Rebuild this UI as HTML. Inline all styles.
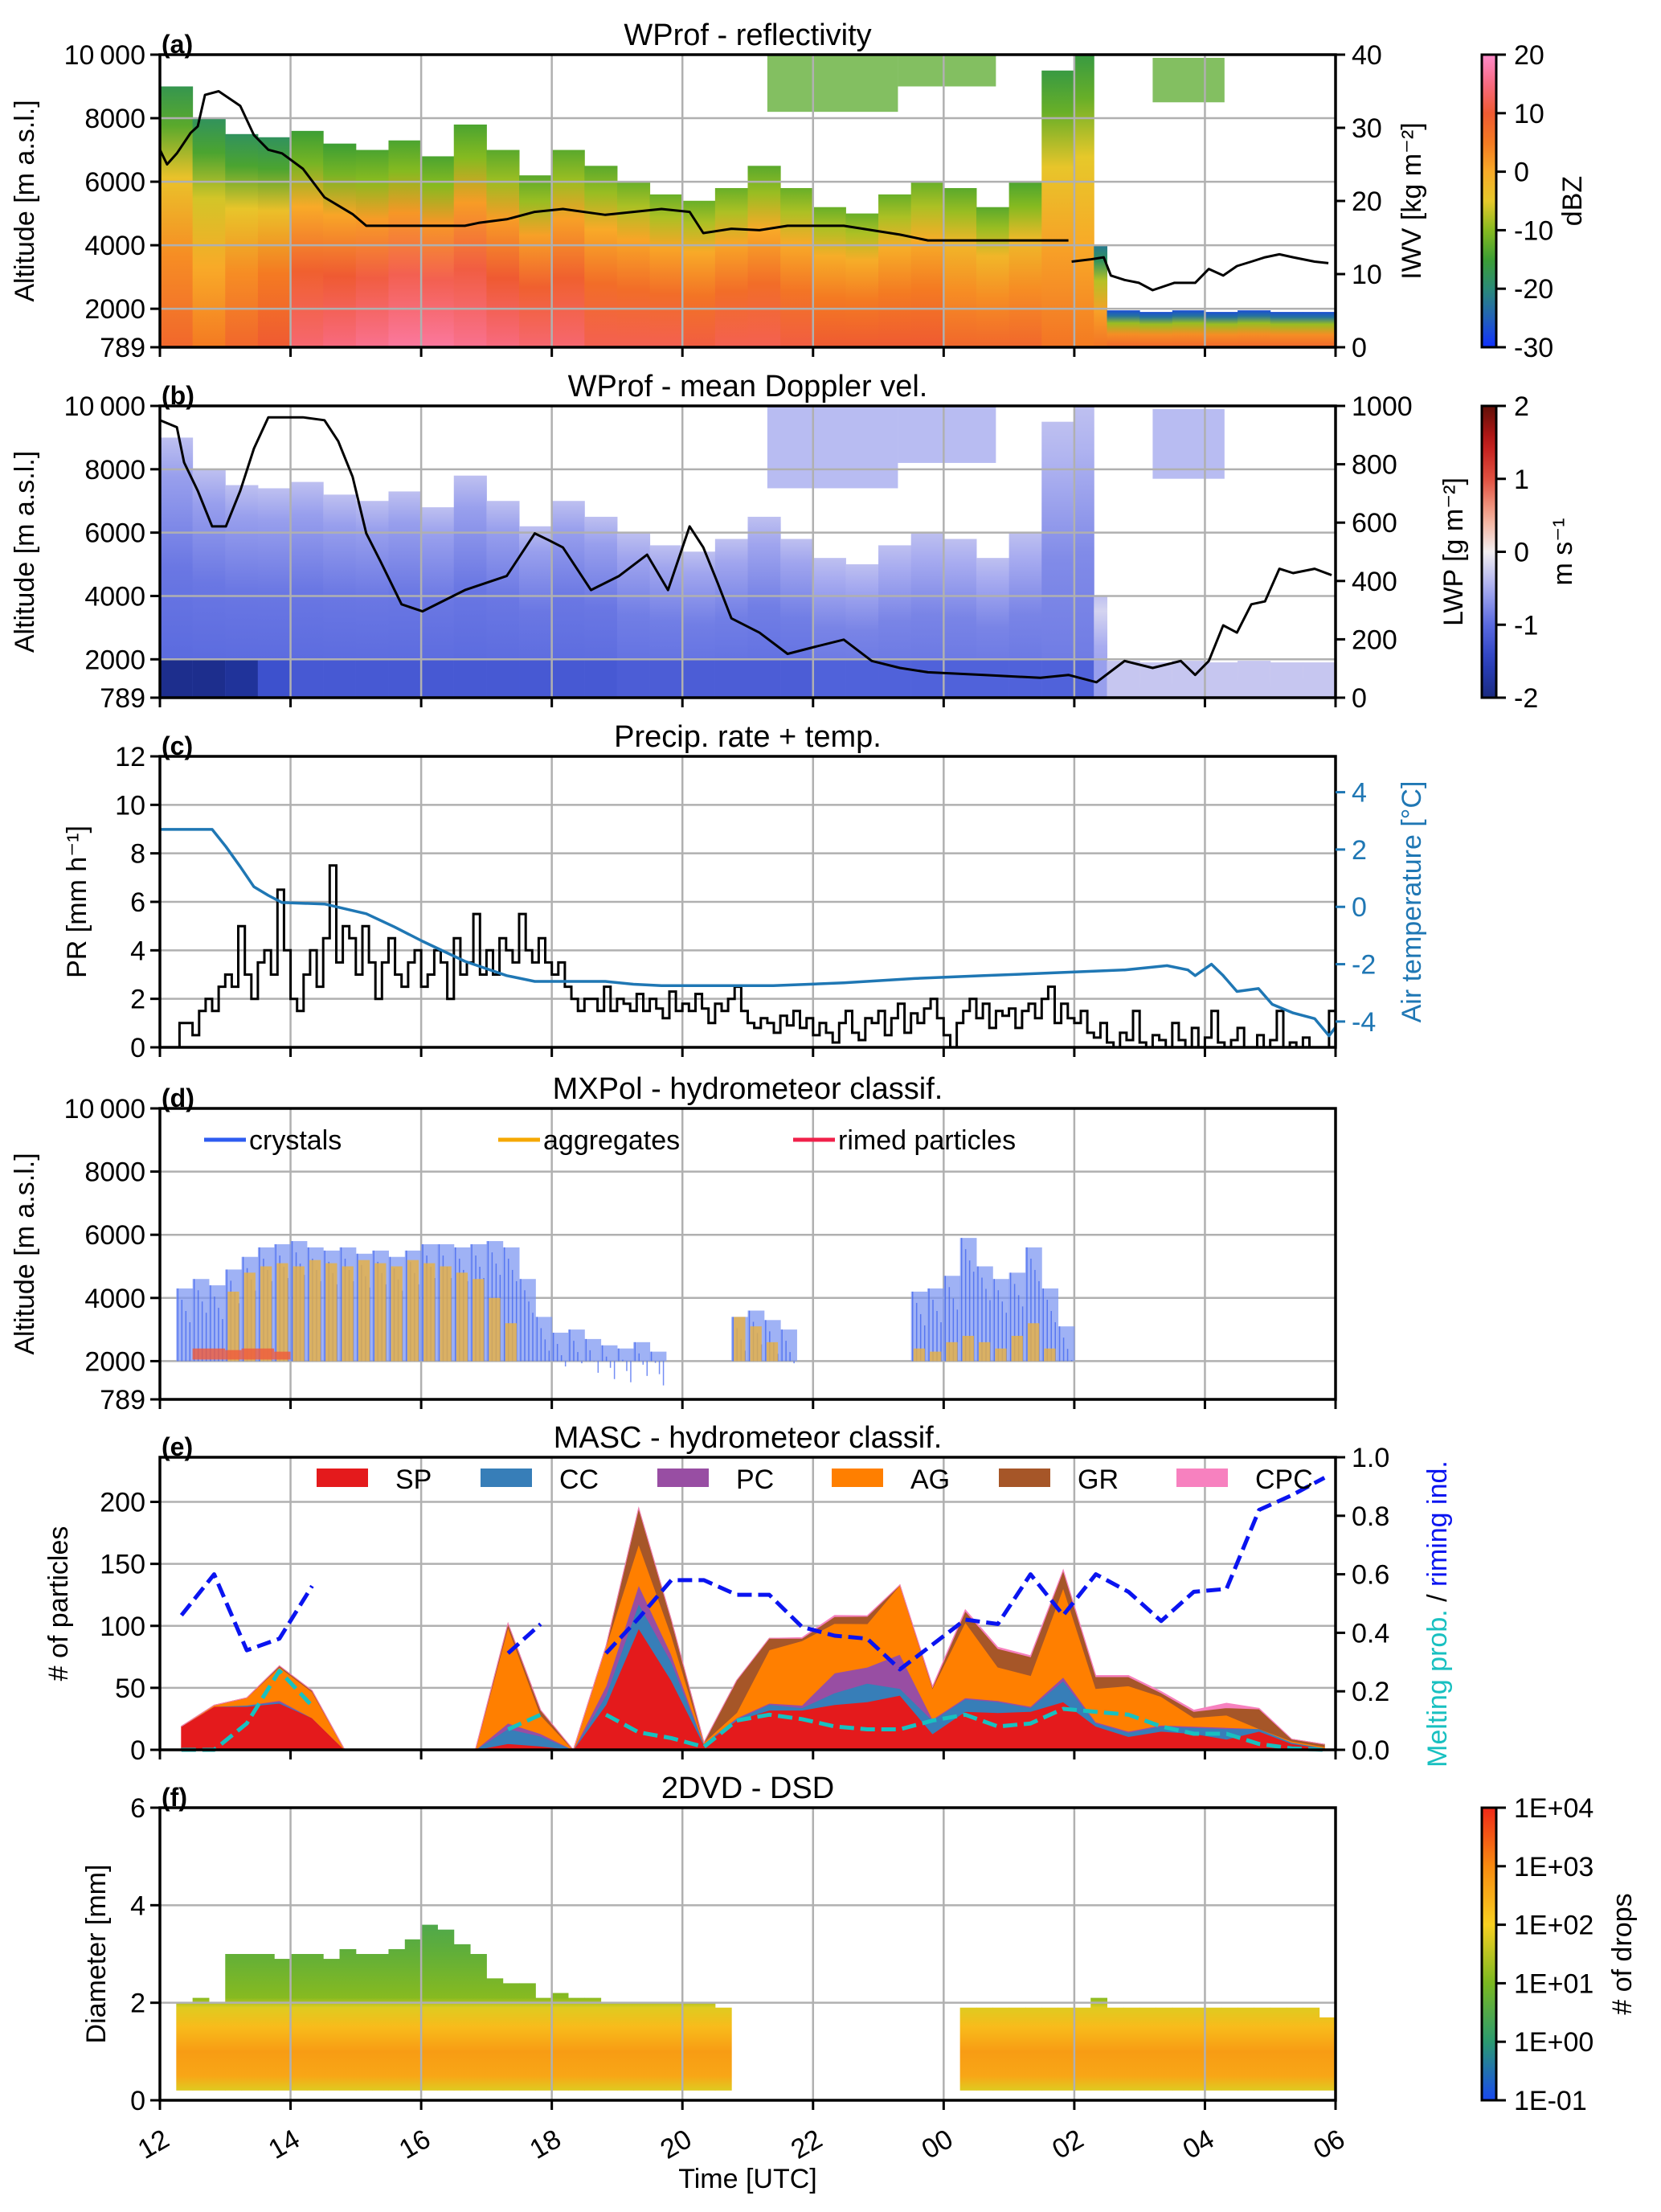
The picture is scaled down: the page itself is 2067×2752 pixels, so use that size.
<!DOCTYPE html>
<html><head><meta charset="utf-8"><style>
html,body{margin:0;padding:0;background:#fff}
svg{display:block;font-family:"Liberation Sans","DejaVu Sans",sans-serif}
</style></head><body>
<svg id="fig" width="2067" height="2752" viewBox="0 0 2067 2752" xmlns="http://www.w3.org/2000/svg">
<defs id="defs"></defs>
</svg>
<script>
// ---------- shared time axis ----------
const xTickHours = [0,2,4,6,8,10,12,14,16,18];
const xTickLabels = ["12","14","16","18","20","22","00","02","04","06"];
// ---------- (a) reflectivity: echo columns ----------
const aTimes = [0,0.5,1,1.5,2,2.5,3,3.5,4,4.5,5,5.5,6,6.5,7,7.5,8,8.5,9,9.5,10,10.5,11,11.5,12,12.5,13,13.5,14,14.3,14.5,15,15.5,16,16.5,17,17.5];
const aTops = [9000,8000,7500,7400,7600,7200,7000,7300,6800,7800,7000,6200,7000,6500,6000,5600,5400,5800,6500,5800,5200,5000,5600,6000,5800,5200,6000,9500,10000,4000,1950,1900,1950,1900,1950,1900,1900];
const aCoreZ = [8,5,8,10,14,15,16,17,17,16,15,14,14,12,12,12,11,12,12,11,10,10,10,10,8,8,8,6,5,6,8,8,8,8,8,8,8];
const aTopZ = [-17,-18,-18,-18,-15,-15,-14,-14,-14,-14,-13,-13,-13,-13,-12,-12,-12,-12,-13,-12,-12,-12,-12,-12,-13,-13,-14,-16,-16,-22,-27,-27,-27,-27,-27,-27,-27];
const aUpStart = [9.3,11.3,15.2];
const aUpEnd = [11.3,12.8,16.3];
const aUpBottom = [8200,9000,8500];
const aUpTop = [10000,10000,9900];
const iwvHours = [0,0.11,0.26,0.47,0.58,0.69,0.9,1.23,1.44,1.66,1.87,2.19,2.52,2.95,3.16,3.81,4.67,4.88,5.31,5.74,6.17,6.82,7.25,7.68,8.11,8.32,8.75,9.18,9.61,10.04,10.47,10.9,11.33,11.76,12.62,13.48,13.91,13.93,13.96,14.24,14.45,14.56,14.77,14.99,15.2,15.53,15.85,16.06,16.28,16.49,16.71,16.92,17.14,17.35,17.68,17.89];
const iwvValues = [27,25,26.5,29.3,30.2,34.5,35,33,29,27,26.5,24.4,20.5,18.2,16.6,16.6,16.6,17,17.5,18.5,18.9,18.1,18.5,18.9,18.5,15.6,16.2,16,16.6,16.6,16.6,16,15.4,14.6,14.6,14.6,14.6,null,11.7,12,12.3,9.8,9.2,8.8,7.8,8.8,8.8,10.7,9.8,11.1,11.7,12.3,12.7,12.3,11.7,11.5];
// ---------- (b) Doppler velocity ----------
const bVelCloud = [-0.9,-0.9,-0.9,-0.9,-0.9,-0.9,-0.9,-0.9,-0.9,-0.9,-0.9,-0.9,-0.9,-0.9,-0.85,-0.85,-0.85,-0.85,-0.85,-0.85,-0.8,-0.8,-0.8,-0.8,-0.8,-0.8,-0.8,-0.75,-0.75,-0.5,-0.2,-0.2,-0.2,-0.2,-0.2,-0.2,-0.2];
const bVelBand = [-1.9,-1.9,-1.8,-1.3,-1.2,-1.2,-1.2,-1.2,-1.2,-1.2,-1.2,-1.2,-1.2,-1.2,-1.15,-1.15,-1.15,-1.15,-1.15,-1.15,-1.1,-1.1,-1.1,-1.1,-1.1,-1.1,-1.1,-1.1,-1.1,-0.6,-0.3,-0.3,-0.3,-0.3,-0.3,-0.3,-0.3];
const lwpHours = [0,0.26,0.37,0.58,0.8,1.01,1.23,1.44,1.66,1.87,2.19,2.52,2.73,2.95,3.16,3.38,3.7,4.02,4.67,5.31,5.74,5.96,6.17,6.6,7.03,7.46,7.78,8.11,8.32,8.54,8.75,9.18,9.61,10.04,10.47,10.9,11.33,11.76,12.62,13.48,13.91,14.34,14.77,15.2,15.63,15.85,16.06,16.28,16.49,16.71,16.92,17.14,17.35,17.68,17.94];
const lwpValues = [951,927,806,709,587,587,709,854,961,961,961,951,879,757,563,466,320,296,369,417,563,539,515,369,417,490,369,587,515,393,272,223,150,175,199,126,102,87,78,68,78,53,126,102,126,78,126,248,223,320,330,442,427,442,420];
// ---------- (c) precipitation + temperature ----------
const prStep = 0.1;
const prValues = [0,0,0,1,1,0.5,1.5,2,1.5,2.5, 3,2.5,5,3,2,3.5,4,3,6.5,4, 2,1.5,3,4,2.5,4.5,7.5,3.5,5,4.5, 3,5,3.5,2,3.5,4.5,3,2.5,3.5,4, 2.5,3,4,3.5,2,4.5,3,3.5,5.5,3, 4,3,4.5,4,3.5,5.5,4,3.5,4.5,3.5, 3,3.5,2.5,2,1.5,2,2,1.5,2.5,1.5, 2,1.8,1.5,2.2,1.5,2,1.6,1.2,2.3,1.5, 1.8,1.5,2.2,1.6,1,1.8,1.5,2,2.5,1.5, 1,0.8,1.2,1,0.6,1.3,0.9,1.5,0.8,1.2, 0.5,1,0.6,0.2,1,1.5,0.6,0.3,1.2,1, 1.5,0.5,1.2,1.8,0.6,1.4,1,1.6,2,1.2, 0.5,0,1,1.5,2,1.2,1.8,0.8,1.5,1.3, 1.6,0.8,1.5,1.8,1.2,2,2.5,1,1.8,1.2, 1,1.5,0.6,0.4,1,0.2,0,0.6,0.3,1.5, 0.2,0,0.5,0.3,0,1,0.3,0,0.8,0, 0.4,1.5,0.2,0,0.3,0.8,0,0,0.5,0, 0.3,1.5,0,0.2,0,0.4,0,0,0,1.5, 0.2];
const tempHours = [0,0.8,1.01,1.23,1.44,1.66,1.87,2.52,3.16,3.59,4.02,4.67,5.31,5.74,6.17,6.82,7.25,7.68,8.32,9.39,10.47,11.55,12.62,13.7,14.77,15.42,15.74,15.85,16.1,16.28,16.49,16.82,17.03,17.35,17.68,17.9,18];
const tempValues = [2.7,2.7,2.1,1.4,0.7,0.4,0.15,0.1,-0.24,-0.7,-1.2,-1.9,-2.4,-2.6,-2.6,-2.6,-2.7,-2.75,-2.75,-2.75,-2.65,-2.5,-2.4,-2.3,-2.2,-2.05,-2.2,-2.4,-2.0,-2.4,-2.95,-2.85,-3.4,-3.7,-3.9,-4.5,-4.2];
// ---------- (d) MXPol classification ----------
const dStep = 0.25;
const dCrystalTop = [0,4300,4600,4400,4900,5300,5600,5700,5800,5600,5500,5600,5400,5500,5300,5500,5700,5700,5600,5700,5800,5600,4600,3400,2900,3000,2700,2500,2400,2600,2300,0,0,0,0,3400,3600,3300,3000,0,0,0,0,0,0,0,4200,4300,4700,5900,5000,4600,4800,5600,4300,3100,0,0,0,0,0,0,0,0,0,0,0,0,0,0,0,0];
const dAggTop = [0,0,0,0,4200,4800,5000,5100,5000,5200,5100,5000,5200,5100,5000,5200,5100,5000,4800,4600,4000,3200,0,0,0,0,0,0,0,0,0,0,0,0,0,3400,3100,2600,0,0,0,0,0,0,0,0,2400,2300,2600,2800,2600,2400,2800,3200,2400,0,0,0,0,0,0,0,0,0,0,0,0,0,0,0,0,0];
const dRimedTop = [0,0,2400,2400,2350,2400,2400,2300,0,0,0,0,0,0,0,0,0,0,0,0,0,0,0,0,0,0,0,0,0,0,0,0,0,0,0,0,0,0,0,0,0,0,0,0,0,0,0,0,0,0,0,0,0,0,0,0,0,0,0,0,0,0,0,0,0,0,0,0,0,0,0,0];
// ---------- (e) MASC classification ----------
const eHours = [0.33,0.83,1.33,1.83,2.33,2.83,3.33,3.83,4.33,4.83,5.33,5.83,6.33,6.83,7.33,7.83,8.33,8.83,9.33,9.83,10.33,10.83,11.33,11.83,12.33,12.83,13.33,13.83,14.33,14.83,15.33,15.83,16.33,16.83,17.33,17.83];
const eSP  = [19,35,35,37.6,25.8,0,0,0,0,0,5,3,0,36.5,98,56,4,23.7,32,32,36.5,38.7,44,13,31,30,31,38.7,19,10.7,15,13,8.6,15,5,1];
const eCC  = [0,0,1,1.1,0,0,0,0,0,0,12,8,0,7.5,20,15,1,1,4.6,2,9.5,15,5.5,10.7,10,8.7,3,17,2.5,3.3,4,5,8.4,2,1,0.5];
const ePC  = [0,0,0,1.1,0,0,0,0,0,0,4.5,2,0,7.5,15,6,0,1,1,2,16,13,27.5,1,1,1,1,3,1,1,1,1,1,0,0,0];
const eAG  = [0,1,6,27,21,0,0,0,0,0,77.5,15,0,32,33,15.5,1,4.3,43,52,40,35,56,25,61,27,25,72,27,36.6,23,7,10,0,1,1];
const eGR  = [0,0,0,1,1,0,0,0,0,0,3,4,0,0,29,12.5,0,26,9.4,2,5.5,6,0,1,9,15,15,14,9.5,7.4,3,5,6,16,1.6,2];
const eCPC = [0,0,0,0,0,0,0,0,0,0,0,0,0,0,0,0,0,0,0,0.5,1,0.5,0,0.5,1,1,1,0.5,1,1,1,1,3.6,0.5,0,0];
const eRiming  = [0.46,0.6,0.34,0.38,0.56,null,null,null,null,null,0.33,0.43,null,0.33,0.45,0.58,0.58,0.53,0.53,0.42,0.39,0.38,0.275,0.36,0.445,0.43,0.6,0.46,0.6,0.54,0.44,0.54,0.55,0.82,0.87,0.93];
const eMelting = [0,0,0.09,0.27,0.15,null,null,null,null,null,0.07,0.12,null,0.12,0.06,0.04,0.01,0.1,0.12,0.105,0.08,0.07,0.07,0.1,0.12,0.08,0.09,0.14,0.13,0.12,0.08,0.055,0.055,0.02,0.005,0];
// ---------- (f) 2DVD DSD ----------
const fStep = 0.25;
const fTop = [0,2.0,2.1,2.0,3.0,3.0,3.0,2.9,3.0,3.0,2.9,3.1,3.0,3.0,3.1,3.3,3.6,3.5,3.2,3.0,2.5,2.4,2.4,2.1,2.2,2.1,2.1,2.0,2.0,2.0,2.0,2.0,2.0,2.0,1.9,0,0,0,0,0,0,0,0,0,0,0,0,0,0,1.9,1.9,1.9,1.9,1.9,1.9,1.9,1.9,2.1,1.9,1.9,1.9,1.9,1.9,1.9,1.9,1.9,1.9,1.9,1.9,1.9,1.9,1.7];

// ================= drawing =================
const NS = "http://www.w3.org/2000/svg";
const svg = document.getElementById('fig');
const defs = document.getElementById('defs');
const X0 = 199, X1 = 1662;
function X(h){ return X0 + h*(X1-X0)/18; }
function mk(tag, attrs, parent){ const e=document.createElementNS(NS,tag); for(const k in attrs) e.setAttribute(k,attrs[k]); (parent||svg).appendChild(e); return e; }
function lerpHex(a,b,t){const pa=parseInt(a.slice(1),16),pb=parseInt(b.slice(1),16);const r=Math.round(((pa>>16)&255)*(1-t)+((pb>>16)&255)*t),g=Math.round(((pa>>8)&255)*(1-t)+((pb>>8)&255)*t),bl=Math.round((pa&255)*(1-t)+(pb&255)*t);return 'rgb('+r+','+g+','+bl+')';}
function cmap(stops, v){ if(v<=stops[0][0]) return lerpHex(stops[0][1],stops[0][1],0); for(let i=1;i<stops.length;i++){ if(v<=stops[i][0]){const t=(v-stops[i-1][0])/(stops[i][0]-stops[i-1][0]);return lerpHex(stops[i-1][1],stops[i][1],t);} } const l=stops[stops.length-1][1]; return lerpHex(l,l,0); }
const zStops = [[-30,'#1030ff'],[-25,'#2262b8'],[-20,'#2a8a78'],[-15,'#3c9e34'],[-10,'#86ba20'],[-5,'#e6c82a'],[0,'#f8aa28'],[5,'#f47a22'],[10,'#ef5a32'],[15,'#f86a80'],[20,'#ff8ccc']];
const vStops = [[-2,'#1a2a80'],[-1.5,'#2a40c0'],[-1,'#5a6ae0'],[-0.5,'#a8acf0'],[0,'#f2eef0'],[0.5,'#f4a890'],[1,'#e05040'],[1.5,'#c01818'],[2,'#601008']];
const nStops = [[-1,'#1848f0'],[0,'#2a9a70'],[1,'#7ab820'],[2,'#f8d020'],[3,'#f88a10'],[4,'#f02818']];

const P = {
  a:{t:68,b:432}, b:{t:505,b:868}, c:{t:941,b:1303}, d:{t:1379,b:1741}, e:{t:1813,b:2177}, f:{t:2249,b:2613}
};
function yLin(p, vmin, vmax){ return v => P[p].b - (v-vmin)/(vmax-vmin)*(P[p].b-P[p].t); }
const Ya = yLin('a',789,10000), Yb = yLin('b',789,10000), Yd = yLin('d',789,10000);
const Yiwv = yLin('a',0,40), Ylwp = yLin('b',0,1000);
const Ypr = yLin('c',0,12), Yt = yLin('c',-4.9,5.25);
const Ye = yLin('e',0,236), Yr = yLin('e',0,1);
const Yf = yLin('f',0,6);

function text(x,y,s,opts){
  const t=mk('text',{x:x,y:y,'font-size':opts.size||34,'text-anchor':opts.anchor||'start',fill:opts.fill||'#000'});
  if(opts.weight) t.setAttribute('font-weight',opts.weight);
  if(opts.rot!==undefined) t.setAttribute('transform','rotate('+opts.rot+' '+x+' '+y+')');
  t.textContent=s; return t;
}
function clipFor(p){
  const id='clip-'+p;
  const cp=mk('clipPath',{id:id},defs);
  mk('rect',{x:X0,y:P[p].t,width:X1-X0,height:P[p].b-P[p].t},cp);
  return 'url(#'+id+')';
}
function gridAndFrame(p, hTicks, Y){
  const g=mk('g',{});
  
  
  for(const h of xTickHours){ mk('line',{x1:X(h),x2:X(h),y1:P[p].t,y2:P[p].b,stroke:'#b0b0b0','stroke-width':2.5},g); }
  for(const v of hTicks){ mk('line',{x1:X0,x2:X1,y1:Y(v),y2:Y(v),stroke:'#b0b0b0','stroke-width':2.5},g); }
}
function frame(p){
  const r=mk('rect',{x:X0,y:P[p].t,width:X1-X0,height:P[p].b-P[p].t,fill:'none',stroke:'#000','stroke-width':3.5});
  
  
  for(const h of xTickHours){ mk('line',{x1:X(h),x2:X(h),y1:P[p].b,y2:P[p].b+12,stroke:'#000','stroke-width':3}); }
}
function leftTicks(p, vals, labels, Y){
  vals.forEach((v,i)=>{ mk('line',{x1:X0-12,x2:X0,y1:Y(v),y2:Y(v),stroke:'#000','stroke-width':3});
    const t=text(X0-18,Y(v)+12,labels[i],{anchor:'end'});
    
     });
}
function rightTicks(vals, labels, Y, color){
  vals.forEach((v,i)=>{ mk('line',{x1:X1,x2:X1+12,y1:Y(v),y2:Y(v),stroke:color||'#000','stroke-width':3});
    const t=text(X1+20,Y(v)+12,labels[i],{fill:color||'#000'});
    
     });
}
function title(p, s, letter){
  const t=text((X0+X1)/2,P[p].t-12,s,{size:38,anchor:'middle'});
  
  
  const l=text(X0+2,P[p].t-2,'('+letter+')',{size:32,weight:'bold'});
  
  
}
function ylabel(x, yc, s, color){
  const t=text(x,yc,s,{anchor:'middle',rot:-90,fill:color||'#000'});
  
  
  return t;
}
function linePath(hours, vals, Y, opts, parent){
  let d='', pen=false;
  hours.forEach((h,i)=>{ const v=vals[i]; if(v===null||v===undefined){pen=false;return;} d+=(pen?'L':'M')+X(h).toFixed(1)+' '+Y(v).toFixed(1)+' '; pen=true; });
  const attrs={d:d,fill:'none',stroke:opts.stroke,'stroke-width':opts.w||3,'stroke-linejoin':'round'};
  if(opts.dash) attrs['stroke-dasharray']=opts.dash;
  return mk('path',attrs,parent);
}
function colGradient(id, stopsArr){
  const lg=mk('linearGradient',{id:id,x1:0,y1:1,x2:0,y2:0},defs);
  stopsArr.forEach(s=>mk('stop',{offset:s[0],'stop-color':s[1]},lg));
  return 'url(#'+id+')';
}
function colorbar(y0,y1,stops,vmin,vmax,ticks,labels,lbl,lblX,name){
  const id='cb-'+name;
  const lg=mk('linearGradient',{id:id,x1:0,y1:1,x2:0,y2:0},defs);
  for(let i=0;i<=20;i++){ const v=vmin+(vmax-vmin)*i/20; mk('stop',{offset:i/20,'stop-color':cmap(stops,v)},lg); }
  const r=mk('rect',{x:1844,y:y0,width:18,height:y1-y0,fill:'url(#'+id+')',stroke:'#000','stroke-width':3});
  
  
  ticks.forEach((v,i)=>{ const y=y1-(v-vmin)/(vmax-vmin)*(y1-y0); mk('line',{x1:1862,x2:1874,y1:y,y2:y,stroke:'#000','stroke-width':3});
    const t=text(1884,y+12,labels[i],{});
    
     });
  const t=text(lblX,(y0+y1)/2,lbl,{anchor:'middle',rot:-90});
  
  
}
const altTicks=[789,2000,4000,6000,8000,10000];
const altLabels=['789','2000','4000','6000','8000','10\u2009000'];

// ===== Panel a =====
(function(){
  const cp=clipFor('a');
  const g=mk('g',{'clip-path':cp});
  
  
  aTimes.forEach((h,i)=>{
    const h2 = i+1<aTimes.length? aTimes[i+1]:18;
    const z0=aCoreZ[i], zt=aTopZ[i];
    const fill=colGradient('ga'+i,[[0,cmap(zStops,z0)],[0.35,cmap(zStops,z0-5)],[0.65,cmap(zStops,(z0-5+zt)/2+3)],[0.85,cmap(zStops,zt+4)],[1,cmap(zStops,zt)]]);
    const r=mk('rect',{x:X(h),y:Ya(aTops[i]),width:X(h2)-X(h)+0.5,height:Ya(789)-Ya(aTops[i]),fill:fill},g);
    
    
  });
  aUpStart.forEach((h,i)=>{
    const r=mk('rect',{x:X(h),y:Ya(aUpTop[i]),width:X(aUpEnd[i])-X(h),height:Ya(aUpBottom[i])-Ya(aUpTop[i]),fill:cmap(zStops,-13),opacity:0.75},g);
    
    
  });
  gridAndFrame('a',[2000,4000,6000,8000],Ya);
  const l=linePath(iwvHours,iwvValues,Yiwv,{stroke:'#000',w:3});
  
  
  frame('a');
  leftTicks('a',altTicks,altLabels,Ya);
  rightTicks([0,10,20,30,40],['0','10','20','30','40'],Yiwv);
  title('a','WProf - reflectivity','a');
  ylabel(42,(P.a.t+P.a.b)/2,'Altitude [m a.s.l.]');
  ylabel(1768,(P.a.t+P.a.b)/2,'IWV [kg m\u207B\u00B2]');
  colorbar(P.a.t,P.a.b,zStops,-30,20,[-30,-20,-10,0,10,20],['-30','-20','-10','0','10','20'],'dBZ',1968,'dbz');
})();

// ===== Panel b =====
(function(){
  const cp=clipFor('b');
  const g=mk('g',{'clip-path':cp});
  
  
  aTimes.forEach((h,i)=>{
    const h2 = i+1<aTimes.length? aTimes[i+1]:18;
    const v0=bVelCloud[i];
    const fill=colGradient('gb'+i,[[0,cmap(vStops,v0-0.15)],[0.5,cmap(vStops,v0)],[0.85,cmap(vStops,v0+0.3)],[1,cmap(vStops,-0.35)]]);
    const r=mk('rect',{x:X(h),y:Yb(aTops[i]),width:X(h2)-X(h)+0.5,height:Yb(789)-Yb(aTops[i]),fill:fill},g);
    
    
    const top = Math.min(aTops[i],2000);
    const band=mk('rect',{x:X(h),y:Yb(top),width:X(h2)-X(h)+0.5,height:Yb(789)-Yb(top),fill:cmap(vStops,bVelBand[i])},g);
    
    
  });
  aUpStart.forEach((h,i)=>{
    const r=mk('rect',{x:X(h),y:Yb(aUpTop[i]),width:X(aUpEnd[i])-X(h),height:Yb(aUpBottom[i]-800)-Yb(aUpTop[i]),fill:cmap(vStops,-0.55),opacity:0.75},g);
    
    
  });
  gridAndFrame('b',[2000,4000,6000,8000],Yb);
  const l=linePath(lwpHours,lwpValues,Ylwp,{stroke:'#000',w:3});
  
  
  frame('b');
  leftTicks('b',altTicks,altLabels,Yb);
  rightTicks([0,200,400,600,800,1000],['0','200','400','600','800','1000'],Ylwp);
  title('b','WProf - mean Doppler vel.','b');
  ylabel(42,(P.b.t+P.b.b)/2,'Altitude [m a.s.l.]');
  ylabel(1820,(P.b.t+P.b.b)/2,'LWP [g m\u207B\u00B2]');
  colorbar(P.b.t,P.b.b,vStops,-2,2,[-2,-1,0,1,2],['-2','-1','0','1','2'],'m s\u207B\u00B9',1956,'ms');
})();

// ===== Panel c =====
(function(){
  gridAndFrame('c',[2,4,6,8,10],Ypr);
  const ph=prValues.map((v,i)=>i*prStep);
  let d='';
  prValues.forEach((v,i)=>{ const x=X(ph[i]), x2=X(Math.min(18,ph[i]+prStep)); d+=(i?'L':'M')+x.toFixed(1)+' '+Ypr(v).toFixed(1)+' L'+x2.toFixed(1)+' '+Ypr(v).toFixed(1)+' '; });
  const pr=mk('path',{d:d,fill:'none',stroke:'#000','stroke-width':3});
  
  
  const tl=linePath(tempHours,tempValues,Yt,{stroke:'#1f77b4',w:3.5});
  
  
  frame('c');
  leftTicks('c',[0,2,4,6,8,10,12],['0','2','4','6','8','10','12'],Ypr);
  rightTicks([-4,-2,0,2,4],['-4','-2','0','2','4'],Yt,'#1f77b4');
  title('c','Precip. rate + temp.','c');
  ylabel(107,(P.c.t+P.c.b)/2,'PR [mm h\u207B\u00B9]');
  ylabel(1768,(P.c.t+P.c.b)/2,'Air temperature [\u00B0C]','#1f77b4');
})();

// ===== Panel d =====
(function(){
  gridAndFrame('d',[2000,4000,6000,8000],Yd);
  const g=mk('g',{});
  
  
  dCrystalTop.forEach((v,i)=>{ if(!v) return;
    const r=mk('rect',{x:X(i*dStep),y:Yd(v),width:X(dStep)-X(0)+0.5,height:Yd(2000)-Yd(v),fill:'#7f98f2',opacity:0.75},g);
    
    
    for(let k=0;k<4;k++){ const xx=X(i*dStep)+k*5+2; mk('line',{x1:xx,x2:xx,y1:Yd(v)+k*14,y2:Yd(2000),stroke:'#3a5ff0','stroke-width':1.5,opacity:0.7},g); }
  });
  dAggTop.forEach((v,i)=>{ if(!v) return;
    const r=mk('rect',{x:X(i*dStep)+3,y:Yd(v),width:X(dStep)-X(0)-6,height:Yd(2000)-Yd(v),fill:'#e8b040',opacity:0.8},g);
    
    
  });
  dRimedTop.forEach((v,i)=>{ if(!v) return;
    const r=mk('rect',{x:X(i*dStep),y:Yd(v),width:X(dStep)-X(0),height:Yd(2050)-Yd(v),fill:'#f05a3a',opacity:0.8},g);
    
    
  });
  frame('d');
  leftTicks('d',altTicks,altLabels,Yd);
  title('d','MXPol - hydrometeor classif.','d');
  ylabel(42,(P.d.t+P.d.b)/2,'Altitude [m a.s.l.]');
  const legItems=[['crystals','#2e5cf0',254],['aggregates','#f5a800',620],['rimed particles','#f0204a',987]];
  legItems.forEach(it=>{
    const gg=mk('g',{});
    
    
    mk('line',{x1:it[2],x2:it[2]+52,y1:1418,y2:1418,stroke:it[1],'stroke-width':5},gg);
    const t=text(it[2]+56,1430,it[0],{});
    gg.appendChild(t);
  });
})();

// ===== Panel e =====
(function(){
  gridAndFrame('e',[50,100,150,200],Ye);
  const series=[eSP,eCC,ePC,eAG,eGR,eCPC];
  const colors=['#e41a1c','#377eb8','#984ea3','#ff7f00','#a65628','#f781bf'];
  const names=['SP','CC','PC','AG','GR','CPC'];
  let base=eHours.map(()=>0);
  const g=mk('g',{'clip-path':clipFor('e')});
  
  
  series.forEach((s,si)=>{
    const top=base.map((b,i)=>b+s[i]);
    let d='M'+X(eHours[0])+' '+Ye(top[0]);
    for(let i=1;i<eHours.length;i++) d+=' L'+X(eHours[i]).toFixed(1)+' '+Ye(top[i]).toFixed(1);
    for(let i=eHours.length-1;i>=0;i--) d+=' L'+X(eHours[i]).toFixed(1)+' '+Ye(base[i]).toFixed(1);
    const p=mk('path',{d:d+'Z',fill:colors[si],stroke:colors[si],'stroke-width':1},g);
    
    
    base=top;
  });
  const rl=linePath(eHours,eRiming,Yr,{stroke:'#0a14f0',w:5,dash:'18 8'});
  
  
  const ml=linePath(eHours,eMelting,Yr,{stroke:'#18c0c0',w:5,dash:'18 8'});
  
  
  frame('e');
  leftTicks('e',[0,50,100,150,200],['0','50','100','150','200'],Ye);
  rightTicks([0,0.2,0.4,0.6,0.8,1.0],['0.0','0.2','0.4','0.6','0.8','1.0'],Yr);
  title('e','MASC - hydrometeor classif.','e');
  ylabel(84,(P.e.t+P.e.b)/2,'# of particles');
  const rt=mk('text',{x:1800,y:2008,'font-size':34,'text-anchor':'middle',transform:'rotate(-90 1800 2008)'});
  
  
  const s1=mk('tspan',{fill:'#18c0c0'},rt); s1.textContent='Melting prob.';
  const s2=mk('tspan',{fill:'#000'},rt); s2.textContent='   /   ';
  const s3=mk('tspan',{fill:'#0a14f0'},rt); s3.textContent='riming ind.';
  const legX=[394,598,818,1035,1243,1464];
  names.forEach((n,i)=>{
    const gg=mk('g',{});
    
    
    mk('rect',{x:legX[i],y:1827,width:64,height:23,fill:colors[i]},gg);
    gg.appendChild(text(legX[i]+98,1852,n,{}));
  });
})();

// ===== Panel f =====
(function(){
  const lg=mk('linearGradient',{id:'gdsd',gradientUnits:'userSpaceOnUse',x1:0,y1:Yf(0.2),x2:0,y2:Yf(4)},defs);
  const dsdStops=[[0.2,1.8],[0.5,2.6],[1.0,2.75],[1.5,2.3],[1.9,1.8],[2.1,1.1],[3.0,0.7],[4.0,0.3]];
  dsdStops.forEach(s=>mk('stop',{offset:(s[0]-0.2)/3.8,'stop-color':cmap(nStops,s[1])},lg));
  const g=mk('g',{});
  
  
  fTop.forEach((v,i)=>{ if(!v) return;
    const r=mk('rect',{x:X(i*fStep),y:Yf(v),width:X(fStep)-X(0)+0.5,height:Yf(0.2)-Yf(v),fill:'url(#gdsd)'},g);
    
    
  });
  gridAndFrame('f',[2,4],Yf);
  frame('f');
  leftTicks('f',[0,2,4,6],['0','2','4','6'],Yf);
  title('f','2DVD - DSD','f');
  ylabel(131,(P.f.t+P.f.b)/2,'Diameter [mm]');
  colorbar(P.f.t,P.f.b,nStops,-1,4,[-1,0,1,2,3,4],['1E-01','1E+00','1E+01','1E+02','1E+03','1E+04'],'# of drops',2030,'drops');
  xTickHours.forEach((h,i)=>{
    const t=text(X(h)+14,2668,xTickLabels[i],{anchor:'end',rot:-30});
    
    
  });
  const xt=text((X0+X1)/2,2722,'Time [UTC]',{anchor:'middle'});
  
  
})();
</script>
</body></html>
